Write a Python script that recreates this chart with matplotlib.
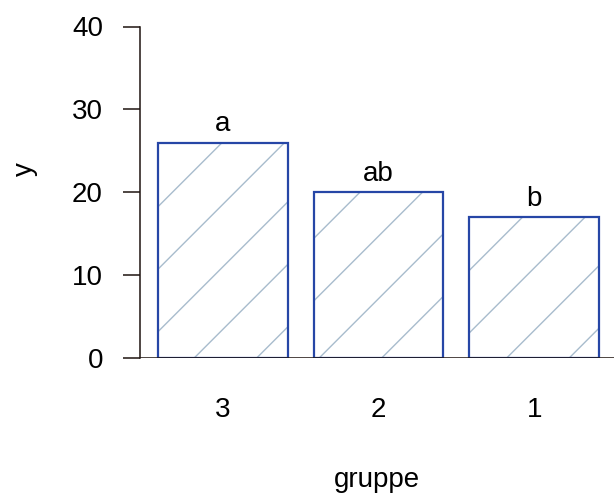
import numpy as np
import matplotlib
matplotlib.use("Agg")
import matplotlib.pyplot as plt
from matplotlib.lines import Line2D

# data
groups = ["3", "2", "1"]
means = [26, 20, 17]
letters = ["a", "ab", "b"]

plt.rcParams['font.family'] = ['Liberation Sans', 'DejaVu Sans']

W, H = 614, 497
fig = plt.figure(figsize=(W / 100, H / 100), dpi=100)
# plot region in pixels (R style)
left, right, bottom, top = 140, 617, 358, 26.5
ax = fig.add_axes([left / W, 1 - bottom / H, (right - left) / W, (bottom - top) / H])

# R barplot geometry: width 1, space 0.2
x = 0.2 + np.arange(len(means)) * 1.2 + 0.5
ax.set_xlim(0.064, 3.736)
ax.set_ylim(0, 40)

axis_col = "#1e1410"
bar_edge = "#2646a6"
hatch_col = "#a8bccd"
fs = 20

bars = ax.bar(x, means, width=1.0, facecolor="none", edgecolor=bar_edge,
              linewidth=1.6, zorder=3)
ax.axhline(0, color=axis_col, lw=1.1, zorder=4)

# shading lines at 45 degrees, fixed to the user origin like R's density=
fig.canvas.draw()
spacing = 62.5  # px between lines along x
ox, oy = ax.transData.transform((0, 0))
for b in bars:
    (x0, y0), (x1, y1) = ax.transData.transform([(b.get_x(), 0),
                                                  (b.get_x() + b.get_width(), b.get_height())])
    kmin = int(np.floor((x0 - ox - (y1 - oy)) / spacing)) - 1
    kmax = int(np.ceil((x1 - ox) / spacing)) + 1
    for k in range(kmin, kmax + 1):
        c = ox + k * spacing  # x where line crosses y = 0
        ln = Line2D([c - 20, c + (y1 - oy) + 20], [oy - 20, y1 + 20], transform=None,
                    color=hatch_col, lw=1.0, zorder=2)
        ax.add_artist(ln)
        ln.set_clip_path(b)

for xi, m, lab in zip(x, means, letters):
    ax.text(xi, m + 1.4, lab, ha="center", va="baseline", fontsize=fs, color="black")

for s in ["top", "right", "bottom"]:
    ax.spines[s].set_visible(False)
ax.spines["left"].set_color(axis_col)
ax.spines["left"].set_linewidth(1.1)
ax.spines["left"].set_bounds(0, 40)

ax.set_yticks([0, 10, 20, 30, 40])
ax.tick_params(axis="y", length=12.2, width=1.1, color=axis_col, labelsize=fs, pad=14.5)
ax.set_xticks(x)
ax.set_xticklabels(groups)
ax.tick_params(axis="x", length=0, labelsize=fs, pad=28)

ax.set_ylabel("y", fontsize=fs)
ax.yaxis.set_label_coords((38 - left) / (right - left), (bottom - 169) / (bottom - top))
fig.text(377 / W, 1 - 487 / H, "gruppe", ha="center", va="baseline", fontsize=fs)

fig.savefig("out.png", dpi=100)
